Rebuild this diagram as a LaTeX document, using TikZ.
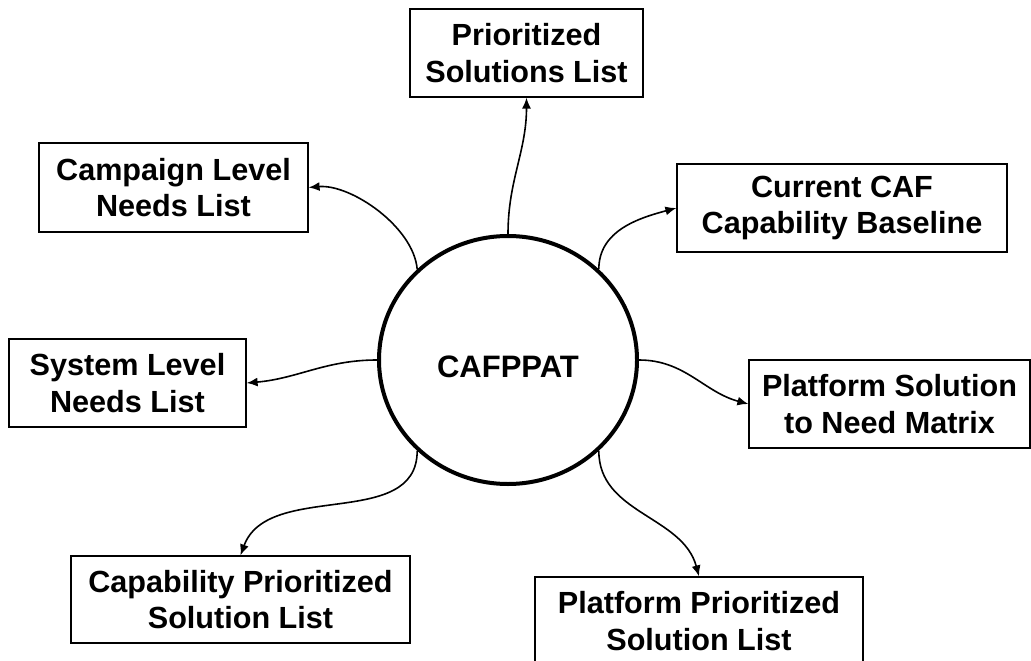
\documentclass[tikz,border=0pt]{standalone}
\usepackage{fontspec}
\setmainfont{Liberation Sans}
\usetikzlibrary{arrows.meta,shapes.geometric}
\begin{document}
\begin{tikzpicture}[x=1pt,y=1pt,
  box/.style={draw,line width=1.2pt,rectangle,align=center,inner sep=0pt,
    font=\fontsize{30.6}{36.7}\selectfont\bfseries},
  conn/.style={line width=1.6pt,-{Latex[length=11pt,width=9pt]}}]
\useasboundingbox (0,0) rectangle (1031,-661);
\node[draw,ellipse,line width=4pt,minimum width=258pt,minimum height=248pt,inner sep=0pt,
  font=\fontsize{31}{36}\selectfont\bfseries] (c) at (508,-360) {\raisebox{-17pt}[0pt][0pt]{CAFPPAT}};
\node[box,minimum width=233pt,minimum height=88pt] (pri) at (526.5,-53) {Prioritized\\Solutions List};
\node[box,minimum width=269pt,minimum height=89pt] (camp) at (173.5,-187.5) {Campaign Level\\Needs List};
\node[box,minimum width=330pt,minimum height=88pt] (cur) at (842,-208) {Current CAF\\Capability Baseline};
\node[box,minimum width=237pt,minimum height=88pt] (sys) at (127.5,-383) {System Level\\Needs List};
\node[box,minimum width=281pt,minimum height=88pt] (ps) at (889.5,-404) {Platform Solution\\to Need Matrix};
\node[box,minimum width=339pt,minimum height=87pt] (cap) at (240.5,-599.5) {Capability Prioritized\\Solution List};
\node[box,minimum width=328pt,minimum height=88pt] (pp) at (699,-621) {Platform Prioritized\\Solution List};
\draw[conn] (c.90) to[out=90,in=-90] (pri.south);
\draw[conn] (c.135) to[out=95,in=5,looseness=0.8] (camp.east);
\draw[conn] (c.45) to[out=90,in=195] (cur.west);
\draw[conn] (c.180) to[out=180,in=5] (sys.east);
\draw[conn] (c.0) to[out=0,in=165] (ps.west);
\draw[conn] (c.225) to[out=-90,in=70] (cap.north);
\draw[conn] (c.315) to[out=-90,in=105] (pp.north);
\end{tikzpicture}
\end{document}
